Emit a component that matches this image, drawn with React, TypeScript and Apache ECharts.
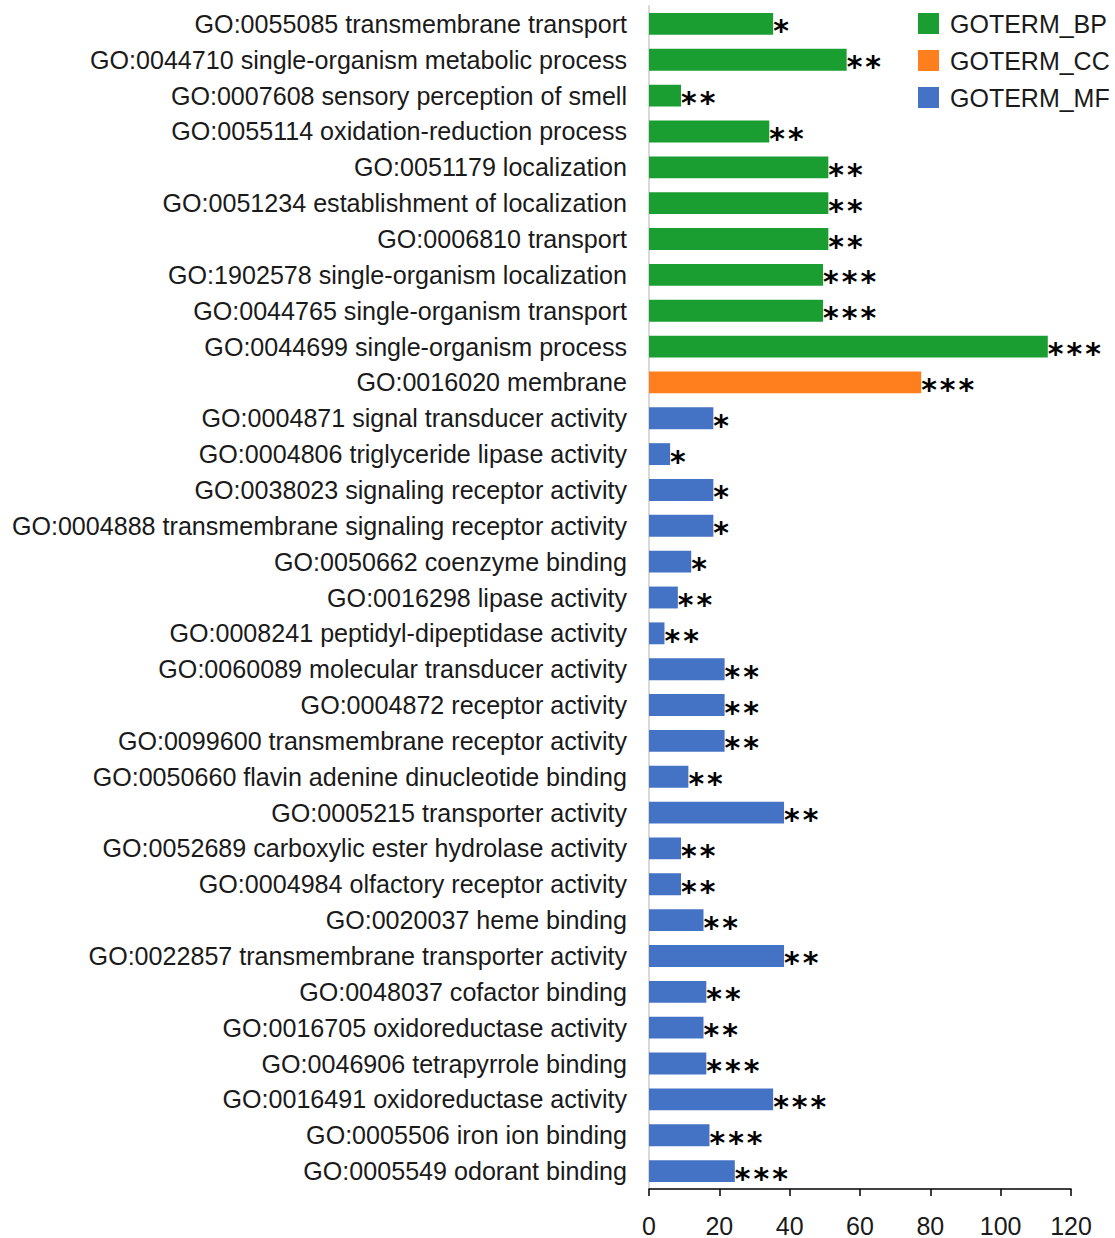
import React, { useEffect, useRef } from "react";
import * as echarts from "echarts";

const categories = [
  "GO:0055085 transmembrane transport",
  "GO:0044710 single-organism metabolic process",
  "GO:0007608 sensory perception of smell",
  "GO:0055114 oxidation-reduction process",
  "GO:0051179 localization",
  "GO:0051234 establishment of localization",
  "GO:0006810 transport",
  "GO:1902578 single-organism localization",
  "GO:0044765 single-organism transport",
  "GO:0044699 single-organism process",
  "GO:0016020 membrane",
  "GO:0004871 signal transducer activity",
  "GO:0004806 triglyceride lipase activity",
  "GO:0038023 signaling receptor activity",
  "GO:0004888 transmembrane signaling receptor activity",
  "GO:0050662 coenzyme binding",
  "GO:0016298 lipase activity",
  "GO:0008241 peptidyl-dipeptidase activity",
  "GO:0060089 molecular transducer activity",
  "GO:0004872 receptor activity",
  "GO:0099600 transmembrane receptor activity",
  "GO:0050660 flavin adenine dinucleotide binding",
  "GO:0005215 transporter activity",
  "GO:0052689 carboxylic ester hydrolase activity",
  "GO:0004984 olfactory receptor activity",
  "GO:0020037 heme binding",
  "GO:0022857 transmembrane transporter activity",
  "GO:0048037 cofactor binding",
  "GO:0016705 oxidoreductase activity",
  "GO:0046906 tetrapyrrole binding",
  "GO:0016491 oxidoreductase activity",
  "GO:0005506 iron ion binding",
  "GO:0005549 odorant binding",
];

const values = [
  35.3, 56.2, 9.1, 34.2, 51.0, 51.0, 51.0, 49.5, 49.5, 113.4,
  77.4,
  18.3, 6.0, 18.3, 18.3, 12.0, 8.2, 4.4, 21.5, 21.5, 21.5, 11.2, 38.4, 9.1, 9.1,
  15.5, 38.4, 16.3, 15.5, 16.3, 35.3, 17.2, 24.4,
];

const stars = [
  "*", "**", "**", "**", "**", "**", "**", "***", "***", "***",
  "***",
  "*", "*", "*", "*", "*", "**", "**", "**", "**", "**", "**", "**", "**", "**",
  "**", "**", "**", "**", "***", "***", "***", "***",
];

const groups = [
  "BP", "BP", "BP", "BP", "BP", "BP", "BP", "BP", "BP", "BP",
  "CC",
  "MF", "MF", "MF", "MF", "MF", "MF", "MF", "MF", "MF", "MF", "MF", "MF", "MF", "MF",
  "MF", "MF", "MF", "MF", "MF", "MF", "MF", "MF",
];

const seriesNames = ["GOTERM_BP", "GOTERM_CC", "GOTERM_MF"];
const seriesKeys = ["BP", "CC", "MF"];
const colors = ["#1a9e32", "#ff7f1e", "#4472c4"];

const FONT = "'Liberation Sans', Arial, sans-serif";

export default function App() {
  const ref = useRef<HTMLDivElement>(null);
  useEffect(() => {
    if (!ref.current) return;
    const chart = echarts.init(ref.current, undefined, { renderer: "svg" });
    const series = seriesKeys.map((k, si) => ({
      name: seriesNames[si],
      type: "bar",
      barGap: "-100%",
      barCategoryGap: "39%",
      itemStyle: { color: colors[si] },
      data: values.map((v, i) => (groups[i] === k ? v : "-")),
      label: {
        show: true,
        position: "right",
        distance: 0,
        offset: [0, 7],
        formatter: (p: any) => stars[p.dataIndex].split("").join("\u200A"),
        fontFamily: "'DejaVu Sans', sans-serif",
        fontWeight: "bold",
        fontSize: 30,
        lineHeight: 18,
        color: "#000",
      },
    }));
    chart.setOption({
      animation: false,
      backgroundColor: "#fff",
      textStyle: { fontFamily: FONT },
      grid: { left: 649, right: 44, top: 6, bottom: 48, containLabel: false },
      legend: {
        orient: "vertical",
        left: 913,
        top: 6,
        itemWidth: 21,
        itemHeight: 21,
        itemGap: 12,
        icon: "rect",
        data: seriesNames,
        textStyle: { fontSize: 25, color: "#1a1a1a", fontFamily: FONT, padding: [0, 0, 0, 6] },
      },
      xAxis: {
        type: "value",
        min: 0,
        max: 120,
        interval: 20,
        splitLine: { show: false },
        axisLine: { show: true, lineStyle: { color: "#000", width: 1.5 } },
        axisTick: { show: true, length: 7, lineStyle: { color: "#000", width: 1.5 } },
        axisLabel: { fontSize: 25, color: "#1a1a1a", margin: 24, fontFamily: FONT },
      },
      yAxis: {
        type: "category",
        inverse: true,
        data: categories,
        axisLine: { show: true, lineStyle: { color: "#d9d9d9", width: 2 } },
        axisTick: { show: false },
        axisLabel: { fontSize: 25.1, color: "#1a1a1a", margin: 22, fontFamily: FONT },
      },
      series,
    });
    return () => chart.dispose();
  }, []);
  return (
    <div
      ref={ref}
      style={{ position: "absolute", left: 0, top: 0, width: 1115, height: 1238 }}
    />
  );
}
